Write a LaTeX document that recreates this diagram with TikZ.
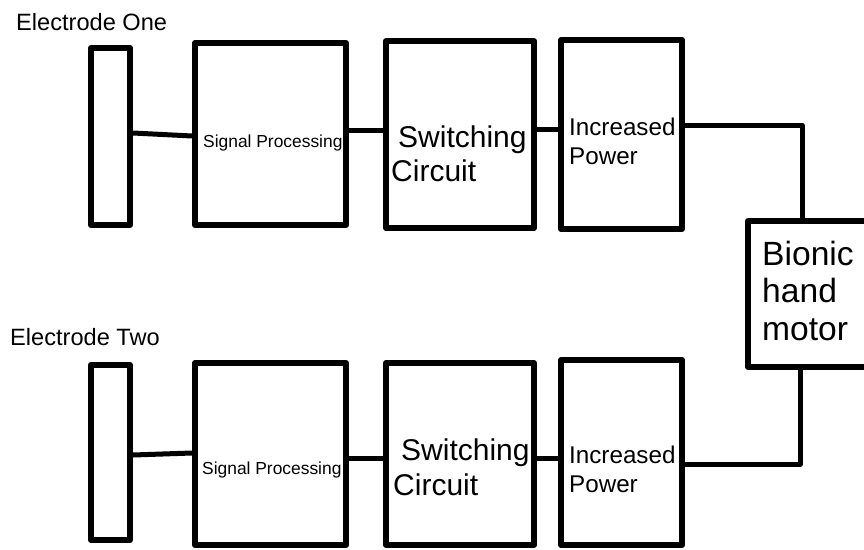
\documentclass[tikz,border=0pt]{standalone}
\usepackage{fontspec}
\setmainfont{Liberation Sans}
\begin{document}
\begin{tikzpicture}[x=1pt,y=-1pt,
  blk/.style={draw, line width=6pt, rectangle, inner sep=0pt, line join=round},
  wire/.style={line width=5pt, line join=round},
  lbl/.style={anchor=base west, inner sep=0pt},
  fA/.style={font=\fontsize{23.6}{26}\selectfont},
  fSP/.style={font=\fontsize{17.4}{20}\selectfont},
  fSW/.style={font=\fontsize{30}{33}\selectfont},
  fIP/.style={font=\fontsize{24.2}{28}\selectfont},
  fBM/.style={font=\fontsize{33.6}{38}\selectfont}]
\useasboundingbox (0,0) rectangle (864,549);
\clip (0,0) rectangle (864,549);
\fill[white] (0,0) rectangle (864,549);

% top row
\node[blk, minimum width=39pt, minimum height=177pt] (e1) at (110.5,136.5) {};
\node[blk, minimum width=151pt, minimum height=182pt] (sp1) at (270.5,134) {};
\node[blk, minimum width=148pt, minimum height=187pt] (sc1) at (460,134.5) {};
\node[blk, minimum width=121pt, minimum height=189pt] (ip1) at (621.5,134.5) {};
% motor
\node[blk, minimum width=124pt, minimum height=146pt] (mot) at (810,294) {};
% bottom row
\node[blk, minimum width=39pt, minimum height=175pt] (e2) at (110.5,452.5) {};
\node[blk, minimum width=151pt, minimum height=182pt] (sp2) at (270.5,454) {};
\node[blk, minimum width=148pt, minimum height=182pt] (sc2) at (460,454) {};
\node[blk, minimum width=121pt, minimum height=185pt] (ip2) at (621.5,452.5) {};

\coordinate (j1) at (802,125);
\coordinate (j2) at (800,464);

% connectors top
\draw[wire] ([yshift=3.5pt]e1.east) -- ([yshift=-2pt]sp1.west);
\draw[wire] ([yshift=4pt]sp1.east) -- ([yshift=4pt]sp1.east -| sc1.west);
\draw[wire] ([yshift=5.5pt]sc1.east) -- ([yshift=5.5pt]sc1.east -| ip1.west);
\draw[wire] ([yshift=9.5pt]ip1.east) -- (j1) -- (mot.north -| j1);
% connectors bottom
\draw[wire] ([yshift=-2.5pt]e2.east) -- ([yshift=1pt]sp2.west);
\draw[wire] ([yshift=-4pt]sp2.east) -- ([yshift=-4pt]sp2.east -| sc2.west);
\draw[wire] ([yshift=-4pt]sc2.east) -- ([yshift=-4pt]sc2.east -| ip2.west);
\draw[wire] ([yshift=-11.5pt]ip2.east) -- (j2) -- (mot.south -| j2);

% labels
\node[lbl, fA] (t1) at (16,30) {Electrode One};
\node[lbl, fA] (t2) at (10,345) {Electrode Two};

\node[lbl, fSP] (sp1t) at (203,147) {Signal Processing};
\node[lbl, fSW] (sc1a) at (398,147) {Switching};
\node[lbl, fSW] (sc1b) at (391,181) {Circuit};
\node[lbl, fIP] (ip1a) at (569,135) {Increased};
\node[lbl, fIP] (ip1b) at (569,164) {Power};

\node[lbl, fSP] (sp2t) at (202,474) {Signal Processing};
\node[lbl, fSW] (sc2a) at (401,460) {Switching};
\node[lbl, fSW] (sc2b) at (393,495) {Circuit};
\node[lbl, fIP] (ip2a) at (569,463) {Increased};
\node[lbl, fIP] (ip2b) at (569,492) {Power};

\node[lbl, fBM] (m1) at (762,265) {Bionic};
\node[lbl, fBM] (m2) at (762,302) {hand};
\node[lbl, fBM] (m3) at (762,340) {motor};
\end{tikzpicture}
\end{document}
